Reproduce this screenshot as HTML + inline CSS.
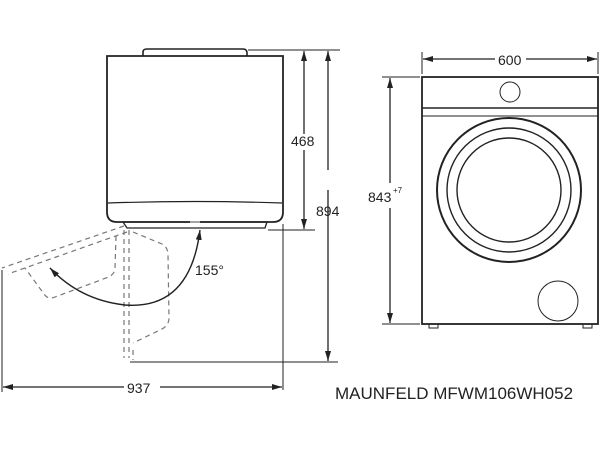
<!DOCTYPE html>
<html><head><meta charset="utf-8"><style>
html,body{margin:0;padding:0;background:#fff;}
svg{display:block;}
text{font-family:"Liberation Sans",Arial,sans-serif;fill:#222;}
</style></head><body>
<svg width="600" height="450" viewBox="0 0 600 450" xmlns="http://www.w3.org/2000/svg">
<defs>
<marker id="a" viewBox="0 0 10 6" refX="10" refY="3" markerWidth="10" markerHeight="6" orient="auto-start-reverse" markerUnits="userSpaceOnUse">
<path d="M0,0 L10,3 L0,6 z" fill="#222"/></marker>
</defs>
<g fill="none" stroke="#222">
<path d="M143,56 L143,52 Q143,49 147,49 L243,49 Q247,49 247,53 L247,56" stroke-width="1.6"/>
<path d="M107,56 L283,56 L283,212 Q283,222 273,222 L117,222 Q107,222 107,212 Z" stroke-width="1.8"/>
<path d="M108,203 Q195,200 282,203" stroke-width="1.2"/>
<path d="M123,222 L267,222 L265,228 L127,228 Z" stroke-width="1.3"/>
<line x1="190" y1="222" x2="200" y2="222" stroke="#fff" stroke-width="1"/>
<g stroke-width="1">
<line x1="248" y1="50" x2="340" y2="50"/>
<line x1="268" y1="230" x2="315" y2="230"/>
<line x1="130" y1="362" x2="338" y2="362"/>
<line x1="283" y1="224" x2="283" y2="390"/>
<line x1="2" y1="270" x2="2" y2="392"/>
</g>
<line x1="304" y1="51" x2="304" y2="134" stroke-width="1.3" marker-start="url(#a)"/>
<line x1="304" y1="150" x2="304" y2="229" stroke-width="1.3" marker-end="url(#a)"/>
<line x1="328" y1="51" x2="328" y2="170" stroke-width="1.3" marker-start="url(#a)"/>
<line x1="328" y1="190" x2="328" y2="361" stroke-width="1.3" marker-end="url(#a)"/>
<line x1="3" y1="387" x2="124" y2="387" stroke-width="1.3" marker-start="url(#a)"/>
<line x1="160" y1="387" x2="282" y2="387" stroke-width="1.3" marker-end="url(#a)"/>
<g stroke="#777" stroke-width="1.2" stroke-dasharray="5,4">
<line x1="124" y1="230" x2="124" y2="358"/>
<line x1="129" y1="230" x2="129" y2="358"/>
<line x1="124" y1="226" x2="2" y2="268"/>
<line x1="127" y1="232" x2="8" y2="274"/>
<path d="M133,232 L162,244 Q168,247 168,255 L169,318 Q169,326 160,330 L133,343"/>
<path d="M116,236 L115,268 Q115,275 106,278 L55,297 Q48,300 44,294 L25,268"/>
<path d="M133,350 L133,360"/>
</g>
<path d="M200,230 Q190,310 125,305 Q80,300 50,268" stroke-width="1.4" marker-start="url(#a)" marker-end="url(#a)"/>
<rect x="422" y="77" width="176" height="247" stroke-width="1.8"/>
<line x1="422" y1="108" x2="598" y2="108" stroke-width="1.5"/>
<line x1="422" y1="116" x2="598" y2="116" stroke-width="1"/>
<circle cx="510" cy="92" r="10" stroke-width="1"/>
<circle cx="509" cy="190" r="72" stroke-width="2"/>
<circle cx="509" cy="190" r="62" stroke-width="1.4"/>
<circle cx="509" cy="190" r="52" stroke-width="1.4"/>
<circle cx="558" cy="301" r="20" stroke-width="1"/>
<rect x="429" y="324" width="9" height="4" stroke-width="1"/>
<rect x="583" y="324" width="9" height="4" stroke-width="1"/>
<g stroke-width="1">
<line x1="422" y1="52" x2="422" y2="74"/>
<line x1="598" y1="52" x2="598" y2="74"/>
<line x1="382" y1="77" x2="420" y2="77"/>
<line x1="382" y1="324" x2="420" y2="324"/>
</g>
<line x1="423" y1="59" x2="495" y2="59" stroke-width="1.3" marker-start="url(#a)"/>
<line x1="526" y1="59" x2="597" y2="59" stroke-width="1.3" marker-end="url(#a)"/>
<line x1="390" y1="78" x2="390" y2="183" stroke-width="1.3" marker-start="url(#a)"/>
<line x1="390" y1="208" x2="390" y2="323" stroke-width="1.3" marker-end="url(#a)"/>
</g>
<text x="291" y="146" font-size="14">468</text>
<text x="316" y="216" font-size="14">894</text>
<text x="195" y="275" font-size="14">155°</text>
<text x="127" y="393" font-size="14">937</text>
<text x="498" y="65" font-size="14">600</text>
<text x="368" y="202" font-size="14">843</text>
<text x="393" y="193" font-size="8">+7</text>
<text x="335" y="399" font-size="17">MAUNFELD MFWM106WH052</text>
</svg>
</body></html>
